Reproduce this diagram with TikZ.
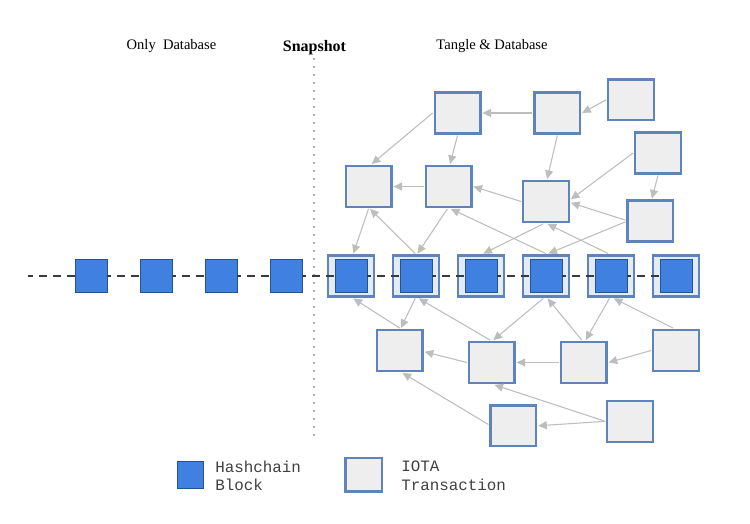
\documentclass[tikz,border=0pt]{standalone}
\usepackage{fontspec}
\setmainfont{Liberation Serif}
\setmonofont{Liberation Mono}
\usetikzlibrary{arrows.meta}
\definecolor{txborder}{HTML}{5F84BA}
\definecolor{txfill}{HTML}{EEEEEE}
\definecolor{pairfill}{HTML}{E3EBF7}
\definecolor{blockfill}{HTML}{4080E0}
\definecolor{blockline}{HTML}{24548F}
\definecolor{linkgray}{HTML}{BDBDBD}
\definecolor{chainc}{HTML}{3A3A3A}
\definecolor{dotc}{HTML}{B0B0B0}
\tikzset{
  txbox/.style={draw=txborder,fill=txfill,line width=1.7pt,minimum width=34.3pt,minimum height=30.6pt,inner sep=0pt,outer sep=1.5pt},
  pairbox/.style={txbox,fill=pairfill},
  blockbox/.style={draw=blockline,fill=blockfill,line width=0.75pt,minimum width=24pt,minimum height=24pt,inner sep=0pt,outer sep=0pt},
  link/.style={draw=linkgray,line width=0.8pt,-{Triangle[length=6.5pt,width=6pt,fill=linkgray]}},
  chainlink/.style={draw=chainc,line width=1.7pt,dash pattern=on 6pt off 4.5pt,dash phase=3pt},
  head/.style={font=\fontsize{10.9pt}{13pt}\selectfont,inner sep=0pt},
  legendtext/.style={font=\ttfamily\fontsize{11.9pt}{13.9pt}\selectfont,align=left,anchor=west,inner sep=0pt,text=black!75}
}
\begin{document}
\begin{tikzpicture}[x=0.75pt,y=-0.75pt]
\useasboundingbox (0,0) rectangle (750,524);
% headings
\node[head] (h1) at (171.5,46) {Only\ \ Database};
\node[head,font=\fontsize{12pt}{14pt}\selectfont\bfseries] (h2) at (314.5,47.5) {Snapshot};
\node[head] (h3) at (492,46) {Tangle \& Database};
% snapshot line
\coordinate (snapTop) at (314,58);
\coordinate (snapBot) at (314,438);
\draw[dotc,line width=1.8pt,dash pattern=on 1.8pt off 4.2pt] (snapTop) -- (snapBot);
% upper transactions
\node[txbox] (T1) at (457.5,113) {};
\node[txbox] (T2) at (557.3,113) {};
\node[txbox] (T3) at (631,99.8) {};
\node[txbox] (T4) at (658,153) {};
\node[txbox] (T5) at (368.5,186.5) {};
\node[txbox] (T6) at (448.5,186.5) {};
\node[txbox] (T7) at (546,201.5) {};
\node[txbox] (T8) at (650.3,221) {};
% pairs
\node[pairbox] (D1) at (351,276) {};
\node[pairbox] (D2) at (416,276) {};
\node[pairbox] (D3) at (481,276) {};
\node[pairbox] (D4) at (546,276) {};
\node[pairbox] (D5) at (611,276) {};
\node[pairbox] (D6) at (676,276) {};
% lower transactions
\node[txbox] (L1) at (399.7,350.5) {};
\node[txbox] (L2) at (491.7,362.5) {};
\node[txbox] (L3) at (583.7,362.5) {};
\node[txbox] (L4) at (676,350.5) {};
\node[txbox] (L5) at (513.3,425.8) {};
\node[txbox] (L6) at (630,421.3) {};
% blocks
\node[blockbox] (B1) at (91,276) {};
\node[blockbox] (B2) at (156.3,276) {};
\node[blockbox] (B3) at (221.3,276) {};
\node[blockbox] (B4) at (286,276) {};
\node[blockbox] (I1) at (351,276) {};
\node[blockbox] (I2) at (416,276) {};
\node[blockbox] (I3) at (481,276) {};
\node[blockbox] (I4) at (546,276) {};
\node[blockbox] (I5) at (611,276) {};
\node[blockbox] (I6) at (676,276) {};
% chain
\coordinate (chainStart) at (28,276);
\draw[chainlink,dash phase=2.25pt] (chainStart) -- (B1.west);
\foreach \a/\b in {B1/B2,B2/B3,B3/B4,B4/I1,I1/I2,I2/I3,I3/I4,I4/I5,I5/I6}
  \draw[chainlink] (\a.east) -- (\b.west);
% links
\draw[link] (T3.west) -- (T2.east);
\draw[link] (T2.west) -- (T1.east);
\draw[link] (T1.west) -- (T5.82);
\draw[link] (T1.270) -- (T6.86);
\draw[link] (T2.270) -- (T7.87);
\draw[link] (T4.west) -- (T7.5);
\draw[link] (T4.270) -- (T8.86);
\draw[link] (T8.178) -- (T7.357);
\draw[link] (T7.west) -- (T6.east);
\draw[link] (T6.west) -- (T5.east);
\draw[link] (T5.270) -- (D1.84);
\draw[link] (D2.92) -- (T5.274);
\draw[link] (T6.267) -- (D2.86);
\draw[link] (D4.90) -- (T6.276);
\draw[link] (T7.263) -- (D3.84);
\draw[link] (D5.97) -- (T7.274);
\draw[link] (T8.182) -- (D4.84);
\draw[link] (L1.90) -- (D1.276);
\draw[link] (D2.268) -- (L1.87);
\draw[link] (L2.94) -- (D2.277);
\draw[link] (D4.263) -- (L2.86);
\draw[link] (L3.95) -- (D4.274);
\draw[link] (D5.266) -- (L3.85);
\draw[link] (L4.97) -- (D5.277);
\draw[link] (L4.west) -- (L3.east);
\draw[link] (L3.west) -- (L2.east);
\draw[link] (L2.west) -- (L1.357);
\draw[link] (L5.177) -- (L1.277);
\draw[link] (L6.west) -- (L2.277);
\draw[link] (L6.west) -- (L5.east);
% legend
\node[blockbox,minimum width=19.5pt,minimum height=20pt] (keyBlock) at (190.5,474.7) {};
\node[legendtext] (keyBlockText) at (215,476) {Hashchain\\Block};
\node[txbox,minimum width=27.6pt,minimum height=25pt] (keyTx) at (363.8,474.8) {};
\node[legendtext] (keyTxText) at (401,476) {IOTA\\Transaction};
\end{tikzpicture}
\end{document}
